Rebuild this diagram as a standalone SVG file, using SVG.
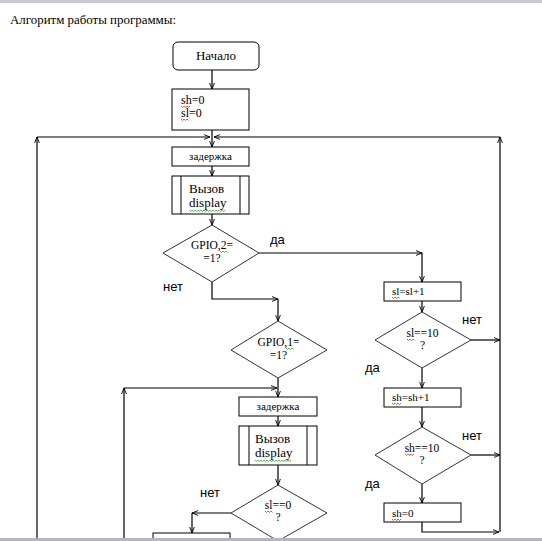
<svg xmlns="http://www.w3.org/2000/svg" width="542" height="541" viewBox="0 0 542 541">
<style>
.box{fill:#fff;stroke:#000;stroke-width:1}
.dia{fill:#fff;stroke:#333;stroke-width:1}
.ln{fill:none;stroke:#000;stroke-width:1.2}
.t{font-family:"Liberation Serif","Times New Roman",serif;fill:#000}
.s{font-family:"Liberation Sans",Arial,sans-serif;font-size:13px;fill:#000}
.wr{fill:none;stroke:#d03030;stroke-width:0.8}
.wg{fill:none;stroke:#40a040;stroke-width:0.8}
</style>
<defs>
<marker id="a" viewBox="0 0 10 10" refX="10" refY="5" markerWidth="6" markerHeight="6" markerUnits="userSpaceOnUse" orient="auto">
<path d="M0,1 L10,5 L0,9" fill="none" stroke="#000" stroke-width="1.5"/>
</marker>
</defs>
<text class="t" x="10" y="24" font-size="13" textLength="166" lengthAdjust="spacingAndGlyphs">Алгоритм работы программы:</text>

<g id="connectors" class="ln">
<path d="M212,70 V89" marker-end="url(#a)"/>
<path d="M212,130 V147" marker-end="url(#a)"/>
<path d="M37,538 V137" marker-end="url(#a)"/>
<path d="M37,137 H210" marker-end="url(#a)"/>
<path d="M500,532 V137" marker-end="url(#a)"/>
<path d="M500,137 H214" marker-end="url(#a)"/>
<path d="M212,166 V176" marker-end="url(#a)"/>
<path d="M212,214 V225" marker-end="url(#a)"/>
<path d="M259,253 H422" marker-end="url(#a)"/>
<path d="M422,253 V282" marker-end="url(#a)"/>
<path d="M212,282 V299 H278" marker-end="url(#a)"/>
<path d="M278,299 V321" marker-end="url(#a)"/>
<path d="M278,378 V397" marker-end="url(#a)"/>
<path d="M124,538 V388" marker-end="url(#a)"/>
<path d="M124,388 H277" marker-end="url(#a)"/>
<path d="M278,416 V426" marker-end="url(#a)"/>
<path d="M278,465 V485" marker-end="url(#a)"/>
<path d="M231,513 H192" marker-end="url(#a)"/>
<path d="M192,513 V533" marker-end="url(#a)"/>
<path d="M422,301 V312" marker-end="url(#a)"/>
<path d="M471,340 H500" marker-end="url(#a)"/>
<path d="M422,368 V388" marker-end="url(#a)"/>
<path d="M422,407 V427" marker-end="url(#a)"/>
<path d="M471,455 H500" marker-end="url(#a)"/>
<path d="M422,484 V503" marker-end="url(#a)"/>
<path d="M422,522 V532 H499" marker-end="url(#a)"/>
</g>

<g id="start">
<rect class="box" x="173" y="42" width="86" height="28" rx="5"/>
<text class="t" x="216" y="60" font-size="13" text-anchor="middle">Начало</text>
</g>
<g id="init">
<rect class="box" x="172" y="89" width="77" height="41"/>
<text class="t" x="181" y="104" font-size="12">sh=0</text>
<text class="t" x="181" y="117" font-size="12">sl=0</text>
<path class="wr" d="M181,106 l1.5,1.5 l1.5,-1.5 l1.5,1.5 l1.5,-1.5 l1.5,1.5 l1.5,-1.5"/>
<path class="wr" d="M181,119 l1.5,1.5 l1.5,-1.5 l1.5,1.5 l1.5,-1.5 l1.5,1.5"/>
</g>
<g id="delay1">
<rect class="box" x="172" y="147" width="77" height="19"/>
<text class="t" x="210.5" y="160" font-size="11" text-anchor="middle">задержка</text>
</g>
<g id="display1">
<rect class="box" x="172" y="176" width="77" height="38"/>
<line class="box" x1="181" y1="176" x2="181" y2="214"/>
<line class="box" x1="240" y1="176" x2="240" y2="214"/>
<text class="t" x="189" y="193" font-size="13">Вызов</text>
<text class="t" x="189" y="207" font-size="13">display</text>
<path class="wg" d="M189,210 l1.5,1.5 l1.5,-1.5 l1.5,1.5 l1.5,-1.5 l1.5,1.5 l1.5,-1.5 l1.5,1.5 l1.5,-1.5 l1.5,1.5 l1.5,-1.5 l1.5,1.5 l1.5,-1.5 l1.5,1.5 l1.5,-1.5 l1.5,1.5 l1.5,-1.5 l1.5,1.5 l1.5,-1.5 l1.5,1.5 l1.5,-1.5 l1.5,1.5 l1.5,-1.5 l1.5,1.5 l1.5,-1.5"/>
</g>
<g id="gpio2">
<polygon class="dia" points="212,225 259,253 212,282 163,253"/>
<text class="t" x="212" y="249" font-size="11.5" text-anchor="middle">GPIO,2=</text>
<text class="t" x="212" y="262" font-size="11.5" text-anchor="middle">=1?</text>
<path class="wg" d="M220,251 l1.5,1.5 l1.5,-1.5 l1.5,1.5 l1.5,-1.5 l1.5,1.5"/>
</g>
<g id="gpio1">
<polygon class="dia" points="278,321 327,350 278,378 231,350"/>
<text class="t" x="278.5" y="346" font-size="11.5" text-anchor="middle">GPIO,1=</text>
<text class="t" x="278.5" y="359" font-size="11.5" text-anchor="middle">=1?</text>
<path class="wg" d="M286,348 l1.5,1.5 l1.5,-1.5 l1.5,1.5 l1.5,-1.5 l1.5,1.5"/>
</g>
<g id="delay2">
<rect class="box" x="239" y="397" width="78" height="19"/>
<text class="t" x="278" y="410" font-size="11" text-anchor="middle">задержка</text>
</g>
<g id="display2">
<rect class="box" x="239" y="426" width="78" height="39"/>
<line class="box" x1="249" y1="426" x2="249" y2="465"/>
<line class="box" x1="307" y1="426" x2="307" y2="465"/>
<text class="t" x="255" y="443" font-size="13">Вызов</text>
<text class="t" x="255" y="457" font-size="13">display</text>
<path class="wg" d="M255,460 l1.5,1.5 l1.5,-1.5 l1.5,1.5 l1.5,-1.5 l1.5,1.5 l1.5,-1.5 l1.5,1.5 l1.5,-1.5 l1.5,1.5 l1.5,-1.5 l1.5,1.5 l1.5,-1.5 l1.5,1.5 l1.5,-1.5 l1.5,1.5 l1.5,-1.5 l1.5,1.5 l1.5,-1.5 l1.5,1.5 l1.5,-1.5 l1.5,1.5 l1.5,-1.5 l1.5,1.5 l1.5,-1.5"/>
</g>
<g id="sl0">
<polygon class="dia" points="278,485 327,513 278,541 231,513"/>
<text class="t" x="278" y="509" font-size="11.5" text-anchor="middle">sl==0</text>
<text class="t" x="278" y="521" font-size="11.5" text-anchor="middle">?</text>
<path class="wr" d="M265,511 l1.5,1.5 l1.5,-1.5 l1.5,1.5 l1.5,-1.5 l1.5,1.5"/>
</g>
<g id="dec">
<rect class="box" x="153" y="533" width="77" height="19"/>
</g>
<g id="slinc">
<rect class="box" x="384" y="282" width="77" height="19"/>
<text class="t" x="392" y="295" font-size="11">sl=sl+1</text>
<path class="wr" d="M392,297 l1.5,1.5 l1.5,-1.5 l1.5,1.5 l1.5,-1.5 l1.5,1.5"/>
</g>
<g id="sl10">
<polygon class="dia" points="422,312 471,340 422,368 375,340"/>
<text class="t" x="422.5" y="337" font-size="11.5" text-anchor="middle">sl==10</text>
<text class="t" x="422.5" y="349" font-size="11.5" text-anchor="middle">?</text>
<path class="wr" d="M407,339 l1.5,1.5 l1.5,-1.5 l1.5,1.5 l1.5,-1.5 l1.5,1.5"/>
</g>
<g id="shinc">
<rect class="box" x="384" y="388" width="77" height="19"/>
<text class="t" x="392" y="401" font-size="11">sh=sh+1</text>
<path class="wr" d="M392,403 l1.5,1.5 l1.5,-1.5 l1.5,1.5 l1.5,-1.5 l1.5,1.5 l1.5,-1.5"/>
</g>
<g id="sh10">
<polygon class="dia" points="422,427 471,455 422,484 375,455"/>
<text class="t" x="422" y="452" font-size="11.5" text-anchor="middle">sh==10</text>
<text class="t" x="422" y="464" font-size="11.5" text-anchor="middle">?</text>
<path class="wr" d="M405,454 l1.5,1.5 l1.5,-1.5 l1.5,1.5 l1.5,-1.5 l1.5,1.5 l1.5,-1.5"/>
</g>
<g id="shzero">
<rect class="box" x="384" y="503" width="77" height="19"/>
<text class="t" x="392" y="517" font-size="11">sh=0</text>
<path class="wr" d="M392,519 l1.5,1.5 l1.5,-1.5 l1.5,1.5 l1.5,-1.5 l1.5,1.5 l1.5,-1.5"/>
</g>
<g id="labels">
<text class="s" x="270" y="244">да</text>
<text class="s" x="163" y="291">нет</text>
<text class="s" x="462" y="324">нет</text>
<text class="s" x="365" y="372">да</text>
<text class="s" x="462" y="440">нет</text>
<text class="s" x="365" y="488">да</text>
<text class="s" x="200" y="497">нет</text>
</g>
<rect x="0" y="0" width="542" height="3" fill="#c9ccd1"/>
<rect x="0" y="538" width="542" height="3" fill="#b4b8be"/>
</svg>
